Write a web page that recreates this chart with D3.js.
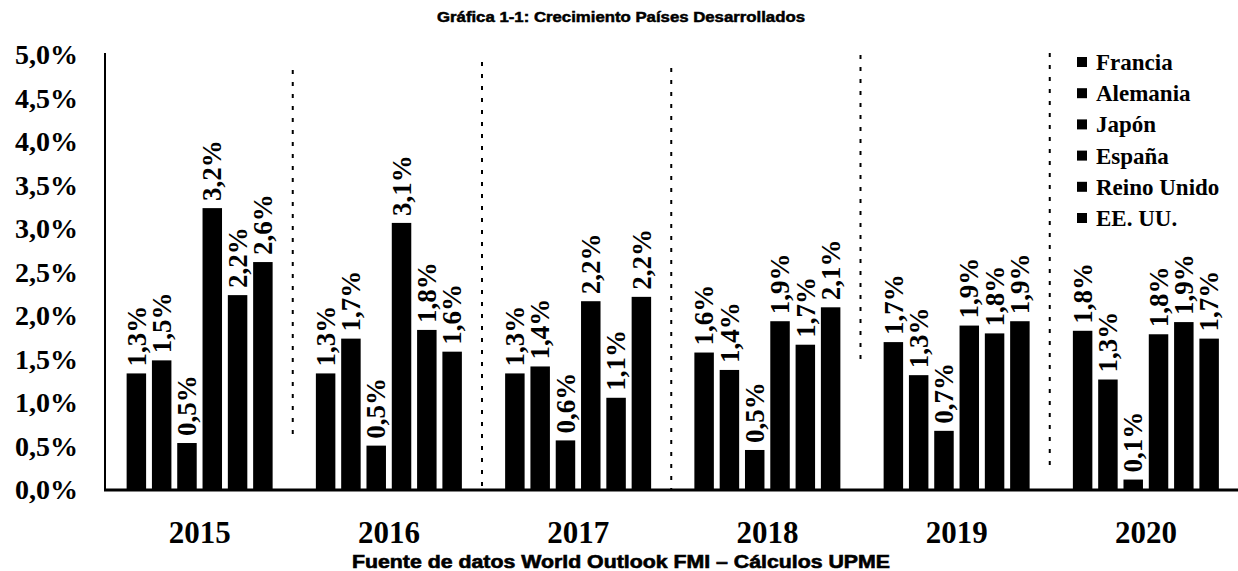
<!DOCTYPE html>
<html><head><meta charset="utf-8">
<script src="https://cdn.jsdelivr.net/npm/d3@7"></script>
<style>html,body{margin:0;padding:0;background:#fff;}</style>
</head><body>
<svg id="chart" width="1238" height="571"></svg>
<script>
const years = ["2015","2016","2017","2018","2019","2020"];
const countries = ["Francia","Alemania","Japón","España","Reino Unido","EE. UU."];
const francia    = [1.34, 1.34, 1.34, 1.58, 1.70, 1.83];
const alemania   = [1.49, 1.74, 1.42, 1.38, 1.32, 1.27];
const japon      = [0.54, 0.51, 0.57, 0.46, 0.68, 0.12];
const espana     = [3.24, 3.07, 2.17, 1.94, 1.89, 1.79];
const reinoUnido = [2.24, 1.84, 1.06, 1.67, 1.80, 1.93];
const eeuu       = [2.62, 1.59, 2.22, 2.10, 1.94, 1.74];
const yTicks = [0, 0.5, 1, 1.5, 2, 2.5, 3, 3.5, 4, 4.5, 5];
const titleText = "Gráfica 1-1: Crecimiento Países Desarrollados";
const sourceText = "Fuente de datos  World Outlook FMI  – Cálculos UPME";

const series = [francia, alemania, japon, espana, reinoUnido, eeuu];
const rows = [];
years.forEach((yr, i) => countries.forEach((c, j) => rows.push({year: yr, country: c, value: series[j][i]})));

const svg = d3.select("#chart");
const serif = "'Liberation Serif', 'Times New Roman', serif";
const sans = "'Liberation Sans', Arial, sans-serif";

const x0 = d3.scaleBand().domain(years).range([105, 1240.5]).paddingInner(0).paddingOuter(0);
const x1 = d3.scaleBand().domain(countries).range([-73, 73]).paddingInner(0.23).paddingOuter(0);
const y = d3.scaleLinear().domain([0, 5]).range([490, 55]);
const fmt = v => d3.format(".1f")(v).replace(".", ",") + "%";

// title
svg.append("text").attr("x", 621).attr("y", 22).attr("text-anchor", "middle")
  .attr("font-family", sans).attr("font-weight", "bold").attr("font-size", 14.5)
  .attr("stroke", "#000").attr("stroke-width", 0.5)
  .attr("textLength", 368).attr("lengthAdjust", "spacingAndGlyphs").text(titleText);

// dotted separators
const sepRanges = [[70, 437], [62, 490], [68, 490], [55, 365], [53, 470]];
years.slice(1).forEach((yr, i) => {
  const sx = x0(yr) - 1.5;
  svg.append("line").attr("x1", sx).attr("x2", sx)
    .attr("y1", sepRanges[i][0]).attr("y2", sepRanges[i][1])
    .attr("stroke", "#000").attr("stroke-width", 2).attr("stroke-dasharray", "4,8");
});

// y axis
const yAxis = d3.axisLeft(y).tickValues(yTicks).tickFormat(fmt).tickSize(0).tickPadding(27);
const ya = svg.append("g").attr("transform", "translate(105,0)").call(yAxis);
ya.select(".domain").attr("stroke", "#000").attr("stroke-width", 2).attr("d", "M0,53V490");
ya.selectAll("text").attr("font-family", serif).attr("font-weight", "bold").attr("font-size", 28).attr("fill", "#000");

// bars
const groups = svg.append("g").selectAll("g").data(years).join("g")
  .attr("transform", d => `translate(${x0(d) + x0.bandwidth() / 2},0)`);
groups.selectAll("rect").data(d => rows.filter(r => r.year === d)).join("rect")
  .attr("x", d => x1(d.country)).attr("width", x1.bandwidth())
  .attr("y", d => y(d.value)).attr("height", d => y(0) - y(d.value)).attr("fill", "#000");
groups.selectAll("text").data(d => rows.filter(r => r.year === d)).join("text")
  .attr("transform", d => `translate(${x1(d.country) + x1.bandwidth() / 2},${y(d.value) - 7}) rotate(-90)`)
  .attr("dy", "0.34em").attr("text-anchor", "start")
  .attr("font-family", serif).attr("font-weight", "bold").attr("font-size", 27).attr("fill", "#000")
  .text(d => fmt(d.value));

// x baseline and year labels
const xAxis = d3.axisBottom(x0).tickSize(0).tickPadding(0);
const xa = svg.append("g").attr("transform", "translate(0,490)").call(xAxis);
xa.select(".domain").attr("stroke", "#000").attr("stroke-width", 3).attr("d", "M104,0H1240");
xa.selectAll("text").attr("y", 53).attr("dy", null)
  .attr("font-family", serif).attr("font-weight", "bold").attr("font-size", 31).attr("fill", "#000");

// legend
const leg = svg.append("g").selectAll("g").data(countries).join("g")
  .attr("transform", (d, i) => `translate(1077,${62 + i * 31.2})`);
leg.append("rect").attr("x", 0).attr("y", -5).attr("width", 10).attr("height", 10).attr("fill", "#000");
leg.append("text").attr("x", 19).attr("y", 8)
  .attr("font-family", serif).attr("font-weight", "bold").attr("font-size", 23).attr("fill", "#000")
  .text(d => d);

// source
svg.append("text").attr("x", 621).attr("y", 568).attr("text-anchor", "middle")
  .attr("font-family", sans).attr("font-weight", "bold").attr("font-size", 18)
  .attr("stroke", "#000").attr("stroke-width", 0.6)
  .attr("textLength", 538).attr("lengthAdjust", "spacingAndGlyphs").text(sourceText);
</script>
</body></html>
